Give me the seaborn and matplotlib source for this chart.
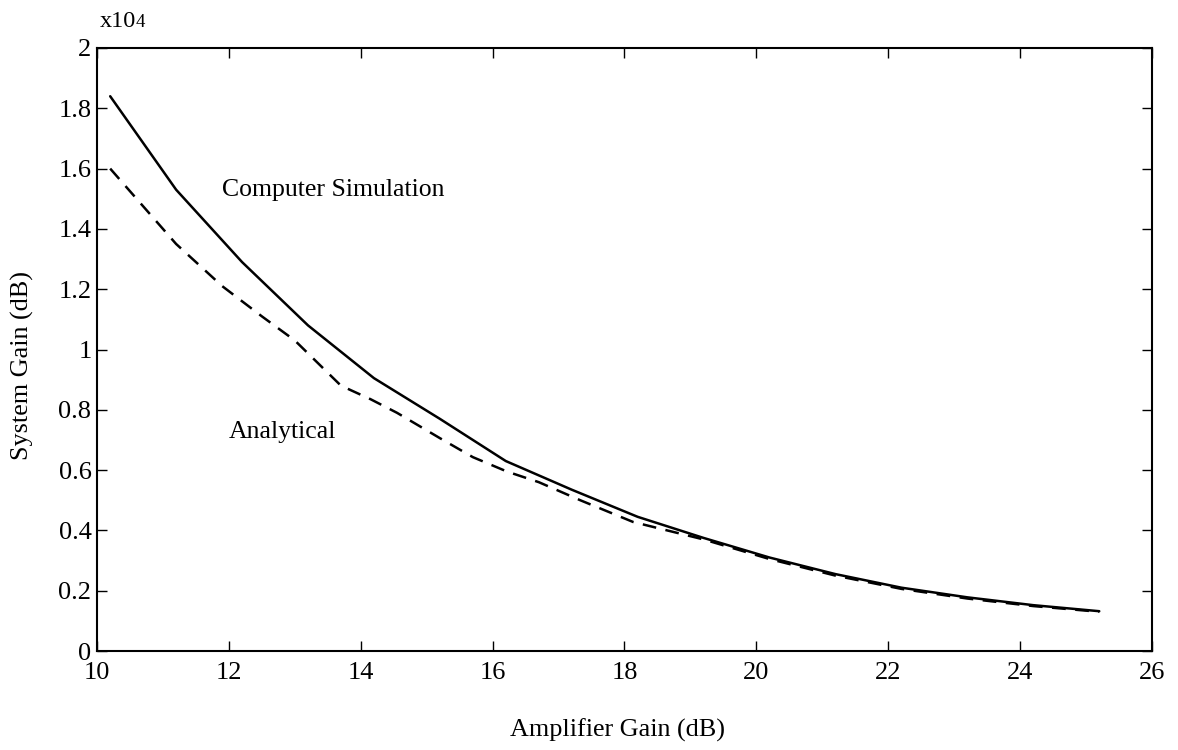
import matplotlib
matplotlib.use("Agg")
import matplotlib.pyplot as plt
import seaborn as sns
import pandas as pd

# Data (values in units of 1e4)
sim_x = [10.2, 11.2, 12.2, 13.2, 14.2, 15.2, 16.2, 17.2, 18.2, 19.2, 20.2, 21.2, 22.2, 23.2, 24.2, 25.2]
sim_y = [1.84, 1.53, 1.29, 1.08, 0.905, 0.77, 0.63, 0.535, 0.445, 0.375, 0.31, 0.255, 0.21, 0.178, 0.152, 0.132]

ana_x = [10.2, 11.2, 11.9, 12.5, 13.0, 13.7, 14.15, 14.55, 15.2, 15.7, 16.22, 16.7, 17.33, 18.13, 19.2, 20.2, 21.2, 22.2, 23.2, 24.2, 25.2]
ana_y = [1.60, 1.35, 1.21, 1.11, 1.03, 0.88, 0.835, 0.79, 0.706, 0.643, 0.595, 0.56, 0.50, 0.428, 0.37, 0.305, 0.25, 0.206, 0.174, 0.149, 0.130]

x_ticks = [10, 12, 14, 16, 18, 20, 22, 24, 26]
y_ticks = [0, 0.2, 0.4, 0.6, 0.8, 1.0, 1.2, 1.4, 1.6, 1.8, 2.0]
y_tick_labels = ["0", "0.2", "0.4", "0.6", "0.8", "1", "1.2", "1.4", "1.6", "1.8", "2"]

sns.set_style("ticks")
plt.rcParams["font.family"] = ["Liberation Serif", "DejaVu Serif"]
plt.rcParams["text.color"] = "black"
plt.rcParams["axes.labelcolor"] = "black"

fig = plt.figure(figsize=(11.78, 7.5), dpi=100)
ax = fig.add_axes([97 / 1178, 1 - 651 / 750, (1152 - 97) / 1178, (651 - 48) / 750])

sim_df = pd.DataFrame({"x": sim_x, "y": sim_y})
ana_df = pd.DataFrame({"x": ana_x, "y": ana_y})

sns.lineplot(data=sim_df, x="x", y="y", ax=ax, color="black", linewidth=1.8, sort=False)
sns.lineplot(data=ana_df, x="x", y="y", ax=ax, color="black", linewidth=1.8, sort=False,
             linestyle=(0, (5.5, 3.8)))

ax.set_xlim(10, 26)
ax.set_ylim(0, 2)
ax.set_xticks(x_ticks)
ax.set_xticklabels([str(t) for t in x_ticks])
ax.set_yticks(y_ticks)
ax.set_yticklabels(y_tick_labels)

ax.tick_params(direction="in", length=7, width=1, labelsize=19, top=True, right=True,
               colors="black")
ax.tick_params(axis="x", pad=8)
ax.tick_params(axis="y", pad=4)
for s in ax.spines.values():
    s.set_linewidth(1.5)
    s.set_color("black")

ax.set_xlabel("Amplifier Gain (dB)", fontsize=18.8)
ax.set_ylabel("System Gain (dB)", fontsize=18.8)
ax.xaxis.set_label_coords((618 - 97) / 1055, -(719 - 651) / 603)
ax.yaxis.set_label_coords(-(97 - 34) / 1055, (651 - 366) / 603)

ax.text(11.9, 1.53, "Computer Simulation", fontsize=18.5, va="center", ha="left")
ax.text(12.0, 0.726, "Analytical", fontsize=18.5, va="center", ha="left")

fig.text(100 / 1178, 1 - 27 / 750, "x10", fontsize=17.5, va="baseline", ha="left")
fig.text(136 / 1178, 1 - 27 / 750, "4", fontsize=13.5, va="baseline", ha="left")

fig.savefig("out.png", dpi=100, facecolor="white")
